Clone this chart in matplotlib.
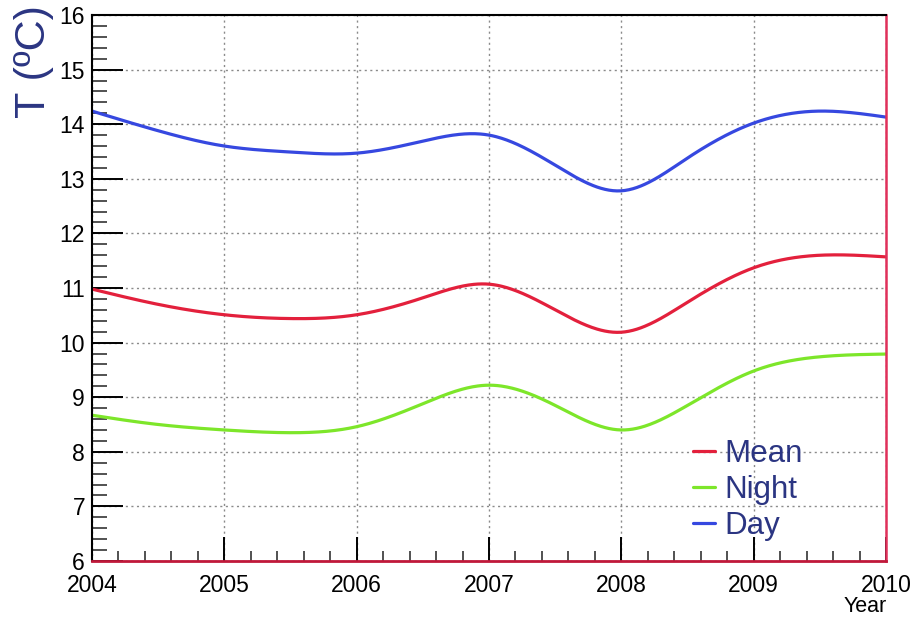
import numpy as np
import matplotlib
matplotlib.use("Agg")
import matplotlib.pyplot as plt
from matplotlib.ticker import MultipleLocator

plt.rcParams['font.family'] = ['Liberation Sans', 'DejaVu Sans']

# Half-yearly temperature readings (ºC)
years = [2004.0, 2004.5, 2005.0, 2005.5, 2006.0, 2006.5, 2007.0,
         2007.5, 2008.0, 2008.5, 2009.0, 2009.5, 2010.0]
t_day = [14.24, 13.88, 13.60, 13.49, 13.47, 13.69, 13.80,
         13.25, 12.78, 13.38, 14.02, 14.24, 14.13]
t_mean = [10.98, 10.70, 10.51, 10.44, 10.51, 10.82, 11.07,
          10.60, 10.19, 10.74, 11.37, 11.60, 11.57]
t_night = [8.67, 8.50, 8.40, 8.35, 8.46, 8.88, 9.22,
           8.85, 8.40, 8.85, 9.48, 9.74, 9.79]

series_labels = ["Mean", "Night", "Day"]
series_colors = ["#e3203c", "#7de62a", "#3648e0"]
navy = "#2b3582"


def natural_spline(x, y, n=600):
    """Smooth curve through the given points (natural cubic spline)."""
    x = np.asarray(x, float)
    y = np.asarray(y, float)
    m = len(x)
    h = np.diff(x)
    A = np.zeros((m, m))
    b = np.zeros(m)
    A[0, 0] = A[-1, -1] = 1.0
    for i in range(1, m - 1):
        A[i, i - 1] = h[i - 1]
        A[i, i] = 2 * (h[i - 1] + h[i])
        A[i, i + 1] = h[i]
        b[i] = 6 * ((y[i + 1] - y[i]) / h[i] - (y[i] - y[i - 1]) / h[i - 1])
    M = np.linalg.solve(A, b)
    xs = np.linspace(x[0], x[-1], n)
    idx = np.clip(np.searchsorted(x, xs) - 1, 0, m - 2)
    x0, x1 = x[idx], x[idx + 1]
    hh = x1 - x0
    a = (x1 - xs) / hh
    c = (xs - x0) / hh
    ys = (a * y[idx] + c * y[idx + 1]
          + ((a ** 3 - a) * M[idx] + (c ** 3 - c) * M[idx + 1]) * hh ** 2 / 6)
    return xs, ys


fig = plt.figure(figsize=(9.18, 6.17), dpi=100)
ax = fig.add_axes([92 / 918, 1 - 561 / 617, (886 - 92) / 918, (561 - 15) / 617])

for vals, lab, col in zip([t_mean, t_night, t_day], series_labels, series_colors):
    xs, ys = natural_spline(years, vals)
    ax.plot(xs, ys, color=col, lw=2.3, label=lab, solid_capstyle='round')

ax.set_xlim(2004, 2010)
ax.set_ylim(6, 16)
ax.xaxis.set_major_locator(MultipleLocator(1))
ax.xaxis.set_minor_locator(MultipleLocator(0.2))
ax.yaxis.set_major_locator(MultipleLocator(1))
ax.yaxis.set_minor_locator(MultipleLocator(0.2))
ax.xaxis.set_major_formatter(plt.FuncFormatter(lambda v, p: f"{int(round(v))}"))
ax.yaxis.set_major_formatter(plt.FuncFormatter(lambda v, p: f"{int(round(v))}"))

ax.tick_params(axis='y', which='major', direction='in', length=22, width=1.4,
               labelsize=16.5, pad=5, colors='black')
ax.tick_params(axis='y', which='minor', direction='in', length=11, width=1.2,
               color='#333333')
ax.tick_params(axis='x', which='major', direction='in', length=17, width=1.4,
               labelsize=16.5, pad=9)
ax.tick_params(axis='x', which='minor', direction='in', length=7, width=1.2,
               color='#333333')

ax.grid(True, which='major', linestyle=(0, (1.5, 2.5)), color='#8a8a8a', lw=1.0)

for s in ('left', 'top'):
    ax.spines[s].set_color('black')
    ax.spines[s].set_linewidth(1.5)
ax.spines['bottom'].set_color('#c0183a')
ax.spines['bottom'].set_linewidth(2.0)
ax.spines['right'].set_color('#e0305a')
ax.spines['right'].set_linewidth(1.8)

fig.text(34 / 918, 1 - 62 / 617, "T (ºC)", rotation=90, color=navy,
         fontsize=31, ha='center', va='center')
fig.text(887 / 918, 1 - 607 / 617, "Year", fontsize=15.5, ha='right',
         va='center', color='black')

leg = ax.legend(loc='lower left', bbox_to_anchor=(0.741, 0.013), frameon=False,
                fontsize=22.5, handlelength=0.7, handletextpad=0.32,
                labelspacing=0.2, borderaxespad=0)
for t in leg.get_texts():
    t.set_color(navy)

fig.savefig("out.png", dpi=100)
